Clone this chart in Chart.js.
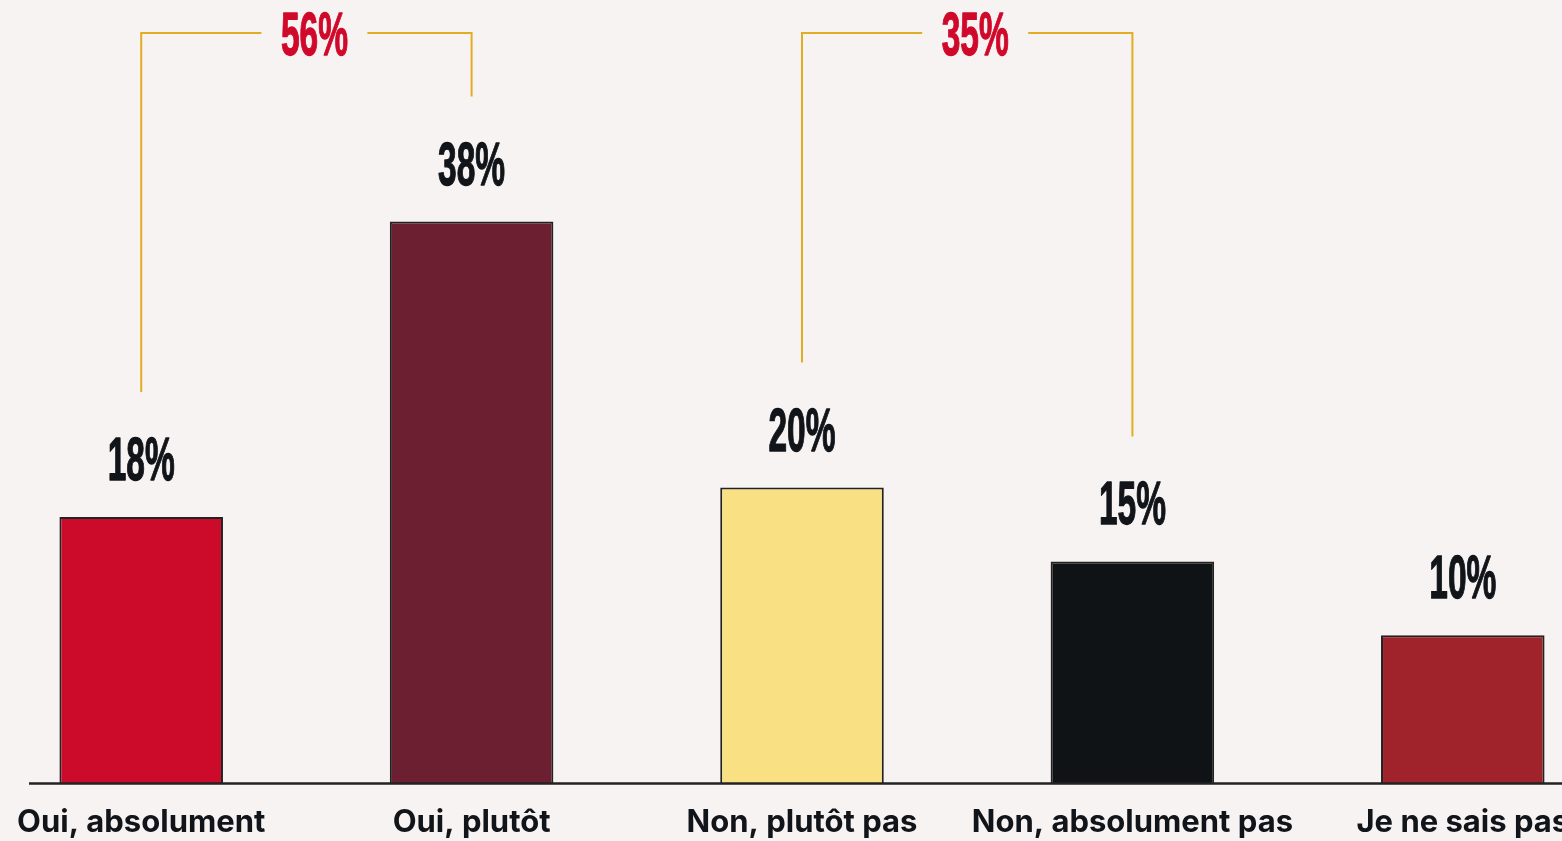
<!DOCTYPE html>
<html lang="fr">
<head>
<meta charset="utf-8">
<title>Sondage</title>
<script src="https://cdn.jsdelivr.net/npm/chart.js@4.4.1/dist/chart.umd.min.js"></script>
<style>
  html, body { margin: 0; padding: 0; background: #F7F3F3; overflow: hidden; }
  body { width: 1562px; height: 841px; position: relative; }
  #wrap { position: absolute; left: -24px; top: 0; width: 1652px; height: 841px; }
</style>
</head>
<body>
<div id="wrap"><canvas id="chart"></canvas></div>
<script>
// Données du graphique
const categories = ['Oui, absolument', 'Oui, plutôt', 'Non, plutôt pas', 'Non, absolument pas', 'Je ne sais pas'];
const values = [18, 38, 20, 15, 10];
const barColors = ['#CC0A29', '#6B1F31', '#F9E183', '#101316', '#A0232B'];
// Regroupements (accolades du haut)
const groupStarts = [0, 2];
const groupEnds = [1, 3];
const groupTotals = ['56%', '35%'];

const gold = '#E1AD22';
const red = '#D0092A';
const ink = '#111418';

// Texte condensé : police étroite compressée horizontalement, un peu épaissie
function drawCondensed(ctx, text, x, y, color) {
    ctx.save();
    ctx.font = 'bold 62px "Liberation Sans Narrow", "Liberation Sans", sans-serif';
    ctx.fillStyle = color;
    ctx.strokeStyle = color;
    ctx.lineWidth = 1.3;
    ctx.lineJoin = 'round';
    ctx.textAlign = 'center';
    ctx.textBaseline = 'alphabetic';
    ctx.translate(x, y);
    ctx.scale(0.54, 1);
    ctx.fillText(text, 0, 0);
    ctx.strokeText(text, 0, 0);
    ctx.restore();
}

const annotations = {
    id: 'annotations',
    afterDatasetsDraw(chart) {
        const ctx = chart.ctx;
        const x = chart.scales.x;
        const y = chart.scales.y;
        const base = y.getPixelForValue(0);

        // ligne de base
        ctx.save();
        ctx.strokeStyle = '#222';
        ctx.lineWidth = 2.5;
        ctx.beginPath();
        ctx.moveTo(53, base + 0.5);
        ctx.lineTo(chart.width, base + 0.5);
        ctx.stroke();
        ctx.restore();

        // valeurs au-dessus des barres
        values.forEach((v, i) => {
            drawCondensed(ctx, v + '%', x.getPixelForValue(i), y.getPixelForValue(v) - 37, ink);
        });

        // accolades
        const topY = 33;
        groupStarts.forEach((s, g) => {
            const e = groupEnds[g];
            const x1 = x.getPixelForValue(s);
            const x2 = x.getPixelForValue(e);
            const mid = (x1 + x2) / 2 + 8;
            const gap = 53;
            ctx.save();
            ctx.strokeStyle = gold;
            ctx.lineWidth = 2;
            ctx.beginPath();
            ctx.moveTo(x1, y.getPixelForValue(values[s]) - 125);
            ctx.lineTo(x1, topY);
            ctx.lineTo(mid - gap, topY);
            ctx.moveTo(mid + gap, topY);
            ctx.lineTo(x2, topY);
            ctx.lineTo(x2, y.getPixelForValue(values[e]) - 125);
            ctx.stroke();
            ctx.restore();
            drawCondensed(ctx, groupTotals[g], mid, 55, red);
        });
    }
};

new Chart(document.getElementById('chart'), {
    type: 'bar',
    data: {
        labels: categories,
        datasets: [{
            data: values,
            backgroundColor: barColors,
            borderColor: '#222',
            borderWidth: 2,
            borderSkipped: 'bottom',
            barPercentage: 0.495,
            categoryPercentage: 1
        }]
    },
    options: {
        responsive: true,
        maintainAspectRatio: false,
        animation: false,
        layout: { padding: 0 },
        plugins: {
            legend: { display: false },
            tooltip: { enabled: false }
        },
        scales: {
            x: {
                grid: { display: false, drawTicks: false },
                border: { display: false },
                ticks: {
                    color: ink,
                    padding: 21,
                    maxRotation: 0,
                    autoSkip: false,
                    font: { family: 'Inter, sans-serif', weight: 'bold', size: 31 }
                },
                afterFit(scale) { scale.height = 58; }
            },
            y: {
                display: false,
                min: 0,
                max: 53
            }
        }
    },
    plugins: [annotations]
});
</script>
</body>
</html>
